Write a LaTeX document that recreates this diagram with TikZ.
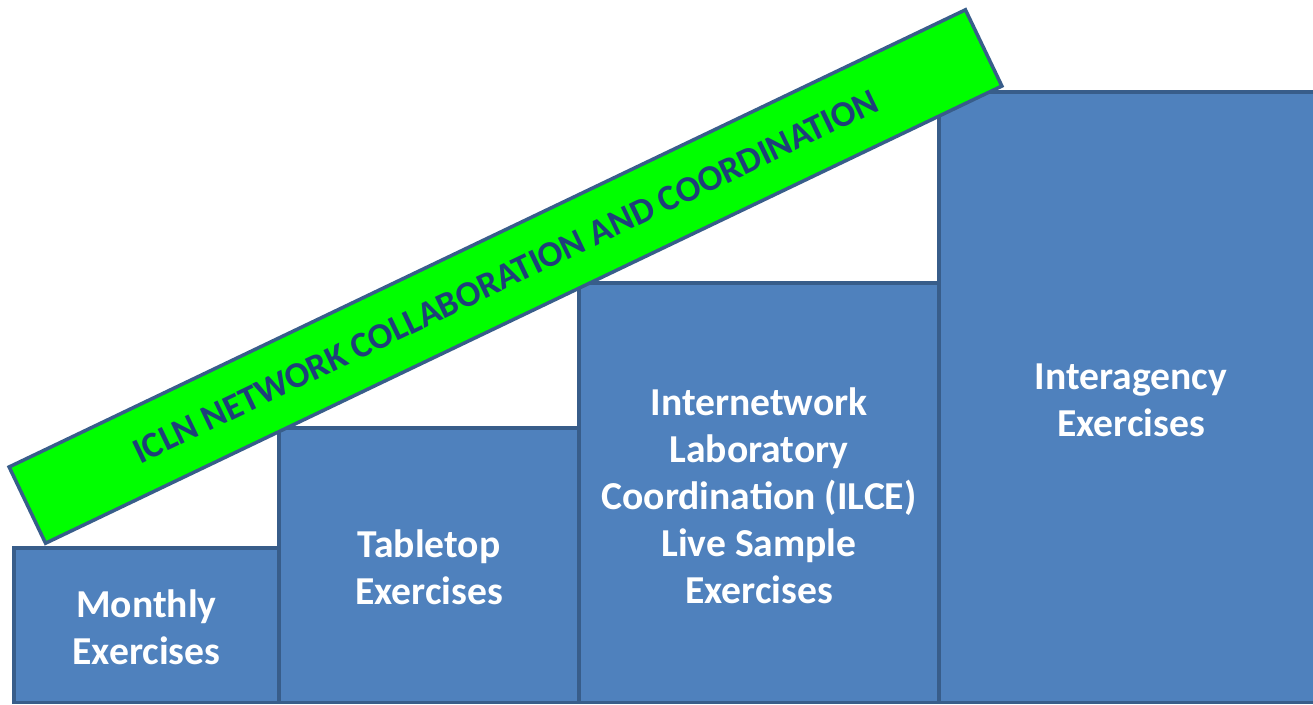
\documentclass[tikz,border=0pt]{standalone}
\usepackage{fontspec}
\setmainfont{Carlito}
\definecolor{boxfill}{HTML}{4F81BD}
\definecolor{boxline}{HTML}{385D8A}
\definecolor{barfill}{HTML}{00FF00}
\definecolor{bartext}{HTML}{1F3F7A}
\tikzset{
  stepbox/.style={fill=boxfill, draw=boxline, line width=3.5pt},
  steplabel/.style={text=white, font=\bfseries\fontsize{39.6}{47}\selectfont, align=center},
  barbox/.style={fill=barfill, draw=boxline, line width=3.5pt, rotate=25.55,
    minimum width=1060pt, minimum height=84.5pt, inner sep=0pt,
    text=bartext, font=\bfseries\fontsize{36.2}{40}\selectfont}
}
\begin{document}
\begin{tikzpicture}[x=1pt,y=-1pt]
\useasboundingbox (0,0) rectangle (1313,704);
\clip (0,0) rectangle (1313,704);
\fill[white] (0,0) rectangle (1313,704);
% steps
\draw[stepbox] (14,548) rectangle (279,702.5);
\draw[stepbox] (279,428) rectangle (579,702.5);
\draw[stepbox] (579,283) rectangle (939,702.5);
\draw[stepbox] (939,92) rectangle (1325,702.5);
\node[steplabel] (monthly) at (146.5,627) {Monthly\\Exercises};
\node[steplabel] (tabletop) at (429,567.5) {Tabletop\\Exercises};
\node[steplabel] (ilce) at (759,495.5) {Internetwork\\Laboratory\\Coordination (ILCE)\\Live Sample\\Exercises};
\node[steplabel] (inter) at (1131,400) {Interagency\\Exercises};
% bar
\node[barbox] (bar) at (505.5,276.5) {ICLN NETWORK COLLABORATION AND COORDINATION};
\end{tikzpicture}
\end{document}
